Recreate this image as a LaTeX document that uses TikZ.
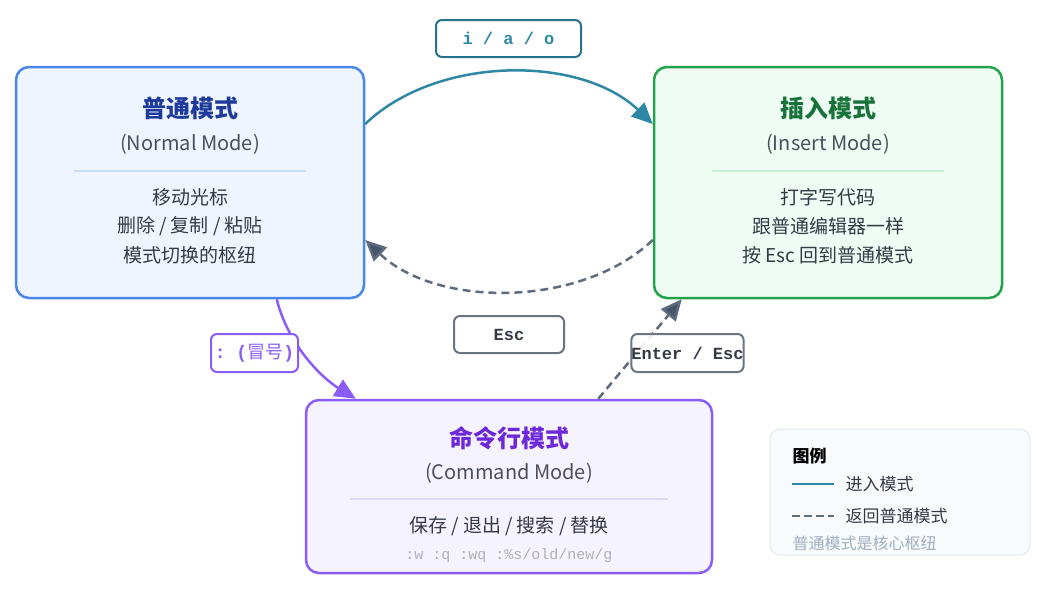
\documentclass[tikz,border=0pt]{standalone}
\usepackage{fontspec}
\setmainfont{Noto Sans CJK SC}
\newfontfamily\mono{Liberation Mono}
\usetikzlibrary{arrows.meta}
\definecolor{nblue}{HTML}{4A86E8}
\definecolor{nfill}{HTML}{EEF5FF}
\definecolor{ntitle}{HTML}{1E3A9A}
\definecolor{nsep}{HTML}{C9DDF7}
\definecolor{igreen}{HTML}{22A34A}
\definecolor{ifill}{HTML}{EFFCF3}
\definecolor{ititle}{HTML}{17733A}
\definecolor{isep}{HTML}{C6F0D6}
\definecolor{cpurple}{HTML}{8B5CF6}
\definecolor{cfill}{HTML}{F5F3FF}
\definecolor{ctitle}{HTML}{6D28D9}
\definecolor{csep}{HTML}{DDD8F5}
\definecolor{teal}{HTML}{2E87A5}
\definecolor{dgray}{HTML}{5F6B7E}
\definecolor{dtip}{HTML}{475569}
\definecolor{lgray}{HTML}{6B7280}
\definecolor{body}{HTML}{353A45}
\definecolor{sub}{HTML}{4A4F5A}
\definecolor{codegray}{HTML}{AEB2B8}
\definecolor{legfill}{HTML}{F8FAFC}
\definecolor{legline}{HTML}{E2E8F0}
\definecolor{legnote}{HTML}{A0AEC0}
\tikzset{
  modebox/.style={rectangle, rounded corners=13pt, line width=2.5pt, inner sep=0pt},
  ttl/.style={font=\fontsize{24}{28}\selectfont\bfseries, anchor=center},
  subt/.style={font=\fontsize{20}{24}\selectfont, text=sub, anchor=center},
  bodyt/.style={font=\fontsize{19}{22}\selectfont, text=body, anchor=center},
  lbl/.style={rectangle, rounded corners=6pt, line width=2pt, fill=white, inner sep=0pt, font=\mono\bfseries\fontsize{17}{20}\selectfont},
  tip/.style={-{Triangle[length=21pt,width=19pt]}},
  dtipst/.style={-{Triangle[length=21pt,width=19pt,fill=dtip]}},
  legt/.style={font=\fontsize{17}{20}\selectfont, anchor=west, text=body}
}
\begin{document}
\begin{tikzpicture}[x=1pt,y=-1pt]
\useasboundingbox (0,0) rectangle (1045,595);
% mode boxes
\node[modebox, draw=nblue, fill=nfill, minimum width=348pt, minimum height=231pt] (normal) at (190,182.5) {};
\node[modebox, draw=igreen, fill=ifill, minimum width=348pt, minimum height=231pt] (insert) at (828,182.5) {};
\node[modebox, draw=cpurple, fill=cfill, minimum width=406pt, minimum height=173pt] (command) at (509,486.5) {};
% normal content
\node[ttl, text=ntitle] (nt) at (190,108) {普通模式};
\node[subt] (ns) at (190,144) {(Normal Mode)};
\draw[nsep, line width=1.2pt] (74,171) -- (306,171);
\node[bodyt] (n1) at (190,197) {移动光标};
\node[bodyt] (n2) at (190,226) {删除 / 复制 / 粘贴};
\node[bodyt] (n3) at (190,255) {模式切换的枢纽};
% insert content
\node[ttl, text=ititle] (it) at (828,108) {插入模式};
\node[subt] (is) at (828,144) {(Insert Mode)};
\draw[isep, line width=1.2pt] (712,171) -- (944,171);
\node[bodyt] (i1) at (828,197) {打字写代码};
\node[bodyt] (i2) at (828,226) {跟普通编辑器一样};
\node[bodyt] (i3) at (828,255) {按 Esc 回到普通模式};
% command content
\node[ttl, text=ctitle] (ct) at (509,438) {命令行模式};
\node[subt] (cs) at (509,473) {(Command Mode)};
\draw[csep, line width=1.2pt] (350,499) -- (668,499);
\node[bodyt] (c1) at (509,526) {保存 / 退出 / 搜索 / 替换};
\node[font=\mono\fontsize{15}{18}\selectfont, text=codegray] (c2) at (509,556) {:w :q :wq :\%s/old/new/g};
% connectors
\draw[teal, line width=2.5pt, tip] ([yshift=58.5pt]normal.east) .. controls (437,55) and (581,55) .. ([yshift=58.5pt]insert.west);
\draw[dgray, line width=2.5pt, dash pattern=on 8pt off 5pt, dtipst] ([yshift=-57.5pt]insert.west) .. controls (581,308) and (437,308) .. ([yshift=-57.5pt]normal.east);
\draw[cpurple, line width=2.5pt, tip] ([xshift=262pt]normal.south west) .. controls (288,345) and (322,378) .. ([xshift=51pt]command.north west);
\draw[dgray, line width=2.5pt, dash pattern=on 8pt off 5pt, dtipst] ([xshift=-115pt]command.north east) -- ([xshift=29pt]insert.south west);
% labels
\node[lbl, draw=teal!85!black, text=teal, minimum width=145pt, minimum height=37pt] (lbl1) at (508.5,38.5) {i / a / o};
\node[lbl, draw=lgray, text=body, minimum width=110pt, minimum height=37pt] (lbl2) at (509,334.5) {Esc};
\node[lbl, draw=cpurple, text=cpurple, minimum width=87pt, minimum height=38pt, font=\mono\bfseries\fontsize{18}{20}\selectfont] (lbl3) at (254.5,353) {:~(\mbox{\rmfamily\mdseries 冒号})};
\node[lbl, draw=lgray, text=body, minimum width=111pt, minimum height=38pt, fill opacity=0.9, text opacity=1] (lbl4) at (687.5,353) {Enter / Esc};
% legend
\node[rectangle, rounded corners=10pt, draw=legline, fill=legfill, line width=1pt, minimum width=260pt, minimum height=126pt] (legend) at (900,492) {};
\node[legt, font=\fontsize{17}{20}\selectfont\bfseries, text=black] (lgt) at (789,456) {图例};
\draw[teal, line width=2.5pt] (792,484) coordinate (la1) -- (834,484) coordinate (la2);
\node[legt] (lg1) at (842,484) {进入模式};
\draw[dgray, line width=2.5pt, dash pattern=on 8pt off 4pt] (792,516) coordinate (lb1) -- (834,516) coordinate (lb2);
\node[legt] (lg2) at (842,516) {返回普通模式};
\node[legt, font=\fontsize{16}{19}\selectfont, text=legnote] (lg3) at (789,543) {普通模式是核心枢纽};
\end{tikzpicture}
\end{document}
